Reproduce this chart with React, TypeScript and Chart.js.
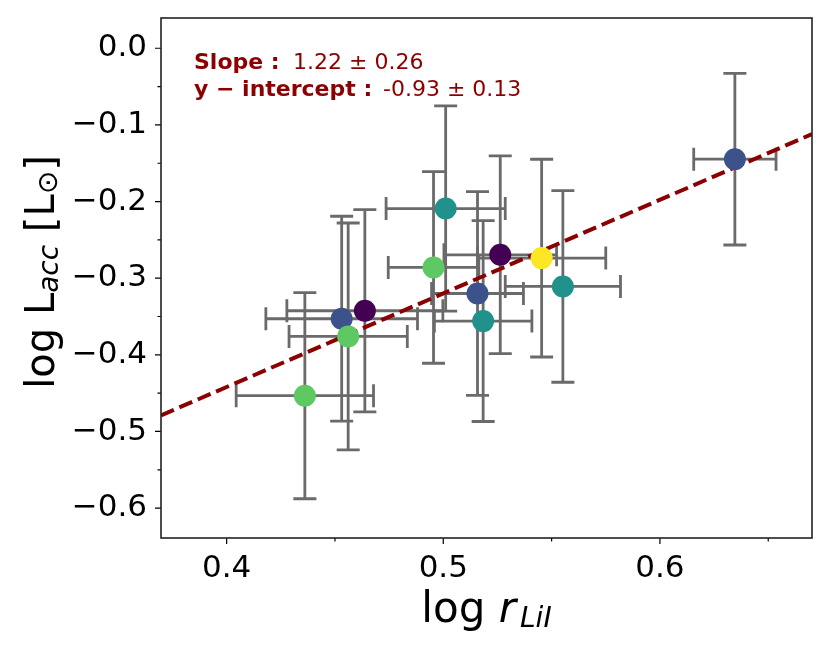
import { useEffect, useRef } from "react";
import Chart from "chart.js/auto";

// one entry per star: log r_LiI, log L_acc and their errors
const logR = [0.4361, 0.4531, 0.4561, 0.4638, 0.4955, 0.5011, 0.5158, 0.5184, 0.5263, 0.5454, 0.5552, 0.6346];
const logL = [-0.4533, -0.3529, -0.376, -0.3425, -0.286, -0.2091, -0.32, -0.356, -0.2695, -0.2738, -0.3108, -0.1447];
const xErr = [0.0317, 0.035, 0.0273, 0.036, 0.0209, 0.0275, 0.0212, 0.0225, 0.026, 0.0296, 0.0266, 0.019];
const yErr = [0.1345, 0.1337, 0.148, 0.132, 0.125, 0.134, 0.133, 0.131, 0.129, 0.129, 0.125, 0.112];
const pointColors = [
  "#5ec962", "#3b528b", "#5ec962", "#440154", "#5ec962", "#21918c",
  "#3b528b", "#21918c", "#440154", "#fde725", "#21918c", "#3b528b",
];

// fitted line (ends at the axis limits)
const fitX = [0.3697, 0.6702];
const fitY = [-0.479, -0.112];

const slopeLabel = "1.22 ± 0.26";
const interceptLabel = "-0.93 ± 0.13";

const xMin = 0.3697;
const xMax = 0.6702;
const yMin = -0.639;
const yMax = 0.0395;

const FONT = "DejaVu Sans";
const DARK_RED = "#8b0000";

const isMajor = (v: number) => Math.abs(v * 10 - Math.round(v * 10)) < 1e-6;

type Run = { text: string; font: string; dy?: number; dx?: number };

const runsWidth = (ctx: CanvasRenderingContext2D, runs: Run[]) =>
  runs.reduce((w, r) => {
    ctx.font = r.font;
    return w + ctx.measureText(r.text).width + (r.dx || 0);
  }, 0);

const drawRuns = (ctx: CanvasRenderingContext2D, runs: Run[], x: number, y: number) => {
  let cx = x;
  runs.forEach((r) => {
    ctx.font = r.font;
    cx += r.dx || 0;
    ctx.fillText(r.text, cx, y + (r.dy || 0));
    cx += ctx.measureText(r.text).width;
  });
};

const errorBars = {
  id: "errorBars",
  beforeDatasetsDraw(chart: any) {
    const { ctx, scales } = chart;
    const { x, y } = scales;
    const cap = 11.5;
    ctx.save();
    ctx.strokeStyle = "#6a6a6a";
    ctx.lineWidth = 2.8;
    logR.forEach((xv, i) => {
      const px = x.getPixelForValue(xv);
      const py = y.getPixelForValue(logL[i]);
      const x0 = x.getPixelForValue(xv - xErr[i]);
      const x1 = x.getPixelForValue(xv + xErr[i]);
      const y0 = y.getPixelForValue(logL[i] - yErr[i]);
      const y1 = y.getPixelForValue(logL[i] + yErr[i]);
      ctx.beginPath();
      ctx.moveTo(x0, py);
      ctx.lineTo(x1, py);
      ctx.moveTo(px, y0);
      ctx.lineTo(px, y1);
      ctx.moveTo(x0, py - cap);
      ctx.lineTo(x0, py + cap);
      ctx.moveTo(x1, py - cap);
      ctx.lineTo(x1, py + cap);
      ctx.moveTo(px - cap, y0);
      ctx.lineTo(px + cap, y0);
      ctx.moveTo(px - cap, y1);
      ctx.lineTo(px + cap, y1);
      ctx.stroke();
    });
    ctx.restore();
  },
};

const frameAndLabels = {
  id: "frameAndLabels",
  afterDraw(chart: any) {
    const { ctx, chartArea: a, scales } = chart;
    ctx.save();

    // ticks, outward, major and minor
    ctx.strokeStyle = "#000";
    ctx.lineWidth = 1.2;
    ctx.beginPath();
    scales.x.ticks.forEach((t: any) => {
      const px = scales.x.getPixelForValue(t.value);
      const len = isMajor(t.value) ? 6 : 3.5;
      ctx.moveTo(px, a.bottom);
      ctx.lineTo(px, a.bottom + len);
    });
    scales.y.ticks.forEach((t: any) => {
      const py = scales.y.getPixelForValue(t.value);
      const len = isMajor(t.value) ? 6 : 3.5;
      ctx.moveTo(a.left, py);
      ctx.lineTo(a.left - len, py);
    });
    ctx.stroke();

    // axes frame
    ctx.strokeStyle = "#222";
    ctx.lineWidth = 1.6;
    ctx.strokeRect(a.left, a.top, a.right - a.left, a.bottom - a.top);

    // fit annotation
    ctx.fillStyle = DARK_RED;
    ctx.textBaseline = "alphabetic";
    ctx.textAlign = "left";
    ctx.font = `bold 22px ${FONT}`;
    ctx.fillText("Slope :", a.left + 33, a.top + 51);
    ctx.fillText("y − intercept :", a.left + 33, a.top + 78);
    ctx.font = `22px ${FONT}`;
    ctx.fillText(slopeLabel, a.left + 132, a.top + 51);
    ctx.fillText(interceptLabel, a.left + 222, a.top + 78);

    // axis titles
    ctx.fillStyle = "#000";
    const xRuns: Run[] = [
      { text: "log ", font: `42px ${FONT}` },
      { text: "r", font: `italic 42px ${FONT}` },
      { text: "LiI", font: `italic 28px ${FONT}`, dy: 5, dx: 4 },
    ];
    const xw = runsWidth(ctx, xRuns);
    drawRuns(ctx, xRuns, (a.left + a.right) / 2 - xw / 2, 622);

    const yRuns: Run[] = [
      { text: "log L", font: `40px ${FONT}` },
      { text: "acc", font: `italic 28px ${FONT}`, dy: 4 },
      { text: " [L", font: `40px ${FONT}` },
      { text: "⊙", font: `28px ${FONT}`, dy: 3 },
      { text: "]", font: `40px ${FONT}` },
    ];
    const yw = runsWidth(ctx, yRuns);
    ctx.translate(54, 272);
    ctx.rotate(-Math.PI / 2);
    drawRuns(ctx, yRuns, -yw / 2, 0);

    ctx.restore();
  },
};

const App = () => {
  const canvasRef = useRef<HTMLCanvasElement>(null);
  const chartRef = useRef<Chart | null>(null);

  useEffect(() => {
    if (chartRef.current) chartRef.current.destroy();
    if (!canvasRef.current) return;

    const tickFont = { family: FONT, size: 31 };

    chartRef.current = new Chart(canvasRef.current, {
      type: "scatter",
      data: {
        datasets: [
          {
            label: "stars",
            data: logR.map((x, i) => ({ x, y: logL[i] })),
            backgroundColor: pointColors,
            borderWidth: 0,
            pointRadius: 11,
            order: 0,
          },
          {
            label: "fit",
            data: fitX.map((x, i) => ({ x, y: fitY[i] })),
            showLine: true,
            borderColor: DARK_RED,
            borderWidth: 4,
            borderDash: [14, 6],
            pointRadius: 0,
            order: 1,
          },
        ],
      },
      options: {
        responsive: true,
        maintainAspectRatio: false,
        animation: false,
        events: [],
        layout: { padding: { top: 18, right: 18, left: 0, bottom: 0 } },
        plugins: {
          legend: { display: false },
          tooltip: { enabled: false },
        },
        scales: {
          x: {
            type: "linear",
            min: xMin,
            max: xMax,
            afterFit: (s: any) => {
              s.height = 115;
              s.paddingLeft = 0;
              s.paddingRight = 0;
            },
            grid: { drawOnChartArea: false, drawTicks: false },
            border: { display: false },
            ticks: {
              stepSize: 0.05,
              includeBounds: false,
              maxTicksLimit: 100,
              autoSkip: false,
              maxRotation: 0,
              padding: 12,
              color: "#000",
              font: tickFont,
              callback: (v: any) => (isMajor(v) ? Number(v).toFixed(1) : ""),
            },
          },
          y: {
            type: "linear",
            min: yMin,
            max: yMax,
            afterFit: (s: any) => {
              s.width = 161;
              s.paddingTop = 0;
              s.paddingBottom = 0;
            },
            grid: { drawOnChartArea: false, drawTicks: false },
            border: { display: false },
            ticks: {
              stepSize: 0.05,
              includeBounds: false,
              maxTicksLimit: 100,
              autoSkip: false,
              padding: 14,
              color: "#000",
              font: tickFont,
              callback: (v: any) => {
                if (!isMajor(v)) return "";
                const s = Math.abs(v).toFixed(1);
                return v < -1e-9 ? "−" + s : s;
              },
            },
          },
        },
      },
      plugins: [errorBars, frameAndLabels],
    });

    return () => {
      if (chartRef.current) {
        chartRef.current.destroy();
        chartRef.current = null;
      }
    };
  }, []);

  return (
    <div style={{ position: "fixed", left: 0, top: 0, width: "830px", height: "653px", background: "#fff" }}>
      <canvas ref={canvasRef} />
    </div>
  );
};

export default App;
